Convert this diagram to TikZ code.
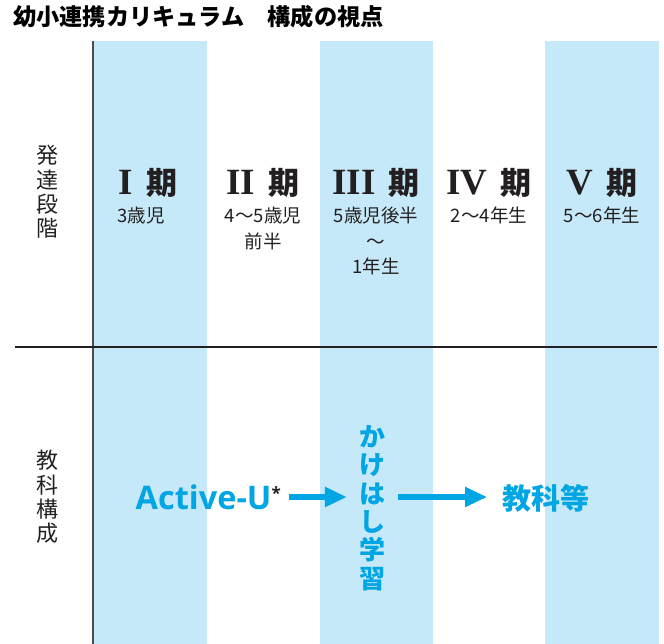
\documentclass[tikz,border=0pt]{standalone}
\usepackage{fontspec}
\setmainfont{Liberation Serif}
\newfontfamily\jp{Noto Sans CJK JP}
\newfontfamily\lat{Open Sans}
\usetikzlibrary{arrows.meta}
\definecolor{colblue}{HTML}{C6E9F9}
\definecolor{cyantext}{HTML}{00A5E3}
\definecolor{dark}{HTML}{231F20}
\newcommand\kiTerm{{\jp\fontsize{31}{31}\selectfont 期}}
\begin{document}
\begin{tikzpicture}[x=1pt,y=-1pt,
  colband/.style={fill=colblue, draw=none},
  head/.style={anchor=base, inner sep=0, font=\fontsize{37}{37}\selectfont\bfseries, text=dark},
  sub/.style={anchor=north, inner sep=0, align=center, font=\jp\fontsize{18.5}{25.5}\selectfont, text=dark},
  rowlab/.style={align=center, inner sep=0, font=\jp\fontsize{22}{24.3}\selectfont, text=dark},
  bluetext/.style={inner sep=0, text=cyantext},
  arr/.style={draw=cyantext, line width=5.5pt, -{Triangle[length=22pt,width=19pt]}}
]
\useasboundingbox (0,0) rectangle (664,644);
% bands
\fill[colband] (93,41) rectangle (207,644);
\fill[colband] (320,41) rectangle (433,644);
\fill[colband] (545,41) rectangle (659,644);
% grid lines
\draw[draw=dark!80, line width=1.5pt] (93,41) -- (93,644);
\draw[draw=dark, line width=1.5pt] (15,347) -- (657,347);
% title
\node[anchor=west, inner sep=0, text=black, font=\jp\bfseries\fontsize{23.2}{24}\selectfont] (title) at (13,17) {幼小連携カリキュラム　構成の視点};
% row labels
\node[rowlab] (r1) at (47,192) {発\\達\\段\\階};
\node[rowlab] (r2) at (47,497) {教\\科\\構\\成};
% headings
\node[head] (h1) at (148,195) {I\hspace{13pt}\kiTerm};
\node[head] (h2) at (263,195) {II\hspace{13pt}\kiTerm};
\node[head] (h3) at (376,195) {III\hspace{13pt}\kiTerm};
\node[head] (h4) at (489,195) {IV\hspace{13pt}\kiTerm};
\node[head] (h5) at (602,195) {V\hspace{13pt}\kiTerm};
% sub labels
\node[sub] (s1) at (141,207) {3歳児};
\node[sub] (s2) at (263,207) {4～5歳児\\前半};
\node[sub] (s3) at (376,207) {5歳児後半\\～\\1年生};
\node[sub] (s4) at (489,207) {2～4年生};
\node[sub] (s5) at (602,207) {5～6年生};
% bottom content
\node[bluetext, anchor=east, font=\lat\bfseries\fontsize{32.5}{32.5}\selectfont] (au) at (281,497) {Active-U\raisebox{10pt}{\fontsize{17}{17}\selectfont\color{dark}*}};
\node[bluetext, align=center, font=\jp\bfseries\fontsize{26}{28.3}\selectfont] (kk) at (372,508) {か\\け\\は\\し\\学\\習};
\node[bluetext, anchor=west, font=\jp\bfseries\fontsize{29}{29}\selectfont] (ky) at (502,498) {教科等};
\draw[arr, shorten <=8pt, shorten >=12pt] (au.east) -- (au.east -| kk.west);
\draw[arr, shorten <=13pt, shorten >=15pt] (au.east -| kk.east) -- (au.east -| ky.west);
\end{tikzpicture}
\end{document}
